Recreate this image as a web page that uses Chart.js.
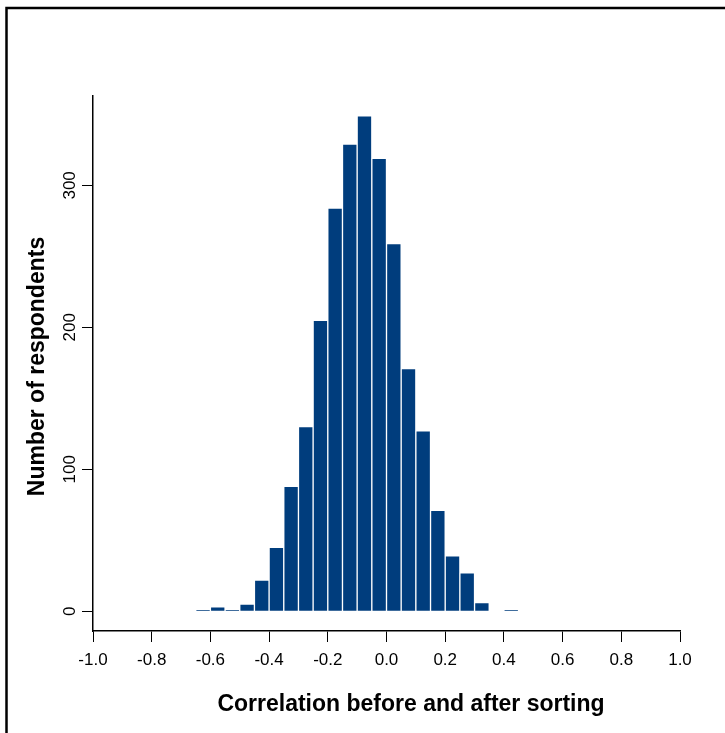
<!DOCTYPE html>
<html>
<head>
<meta charset="utf-8">
<title>Correlation before and after sorting</title>
<script src="https://cdn.jsdelivr.net/npm/chart.js@4.4.1/dist/chart.umd.min.js"></script>
<style>
  html, body { margin: 0; padding: 0; background: #fff; }
  canvas { display: block; }
</style>
</head>
<body>
<canvas id="hist" width="725" height="733"></canvas>
<script>
// histogram bins (left edge of each 0.05-wide bin) and respondent counts
const binLeft = [
  -0.75, -0.70, -0.65, -0.60, -0.55, -0.50, -0.45, -0.40, -0.35, -0.30,
  -0.25, -0.20, -0.15, -0.10, -0.05, 0.00, 0.05, 0.10, 0.15, 0.20,
  0.25, 0.30, 0.35, 0.40, 0.45, 0.50,
];
const counts = [
  0, 0, 1, 3, 1, 5, 22, 45, 88, 130,
  205, 284, 329, 349, 319, 259, 171, 127, 71, 39,
  27, 6, 0, 1, 0, 0,
];
const binWidth = 0.05;

const xTicks = [-1.0, -0.8, -0.6, -0.4, -0.2, 0.0, 0.2, 0.4, 0.6, 0.8, 1.0];
const yTicks = [0, 100, 200, 300];

const xTitle = "Correlation before and after sorting";
const yTitle = "Number of respondents";

const FONT = '"Liberation Sans", Arial, Helvetica, sans-serif';
const BAR = "#003d7d";

// R-style y range: 4% padding around 0..max
const yMax = Math.max(...counts);
const yPad = yMax * 0.04;

const decorations = {
  id: "decorations",
  beforeDraw(chart) {
    const ctx = chart.ctx;
    ctx.save();
    ctx.fillStyle = "#fff";
    ctx.fillRect(0, 0, chart.width, chart.height);
    ctx.restore();
  },
  afterDraw(chart) {
    const ctx = chart.ctx;
    const y = chart.scales.y;
    ctx.save();
    // outer frame
    ctx.strokeStyle = "#000";
    ctx.lineWidth = 2.5;
    ctx.strokeRect(6.5, 8, chart.width + 20, chart.height + 20);

    // vertical y tick labels
    ctx.fillStyle = "#000";
    ctx.font = "17px " + FONT;
    ctx.textAlign = "center";
    ctx.textBaseline = "middle";
    yTicks.forEach((v) => {
      ctx.save();
      ctx.translate(70, y.getPixelForValue(v));
      ctx.rotate(-Math.PI / 2);
      ctx.fillText(String(v), 0, 0);
      ctx.restore();
    });

    // axis titles
    ctx.font = "bold 23px " + FONT;
    ctx.fillText(xTitle, 411, 705);
    ctx.save();
    ctx.translate(38, (chart.chartArea.top + chart.chartArea.bottom) / 2 + 3);
    ctx.rotate(-Math.PI / 2);
    ctx.fillText(yTitle, 0, 0);
    ctx.restore();
    ctx.restore();
  },
};

new Chart(document.getElementById("hist"), {
  type: "bar",
  data: {
    datasets: [
      {
        data: binLeft.map((b, i) => ({ x: b + binWidth / 2, y: counts[i] })),
        backgroundColor: BAR,
        borderColor: "#ffffff",
        borderWidth: 1,
        barPercentage: 1,
        categoryPercentage: 1,
      },
    ],
  },
  options: {
    responsive: false,
    animation: false,
    layout: { padding: { top: 96, right: 45, left: 0, bottom: 0 } },
    plugins: {
      legend: { display: false },
      tooltip: { enabled: false },
    },
    scales: {
      x: {
        type: "linear",
        min: -1,
        max: 1,
        offset: false,
        afterBuildTicks: (s) => { s.ticks = xTicks.map((v) => ({ value: v })); },
        afterFit: (s) => { s.height = 102; },
        border: { display: true, color: "#000", width: 1.5 },
        grid: {
          offset: false,
          drawOnChartArea: false,
          drawTicks: true,
          tickLength: 11,
          color: "#000",
          tickColor: "#000",
        },
        ticks: {
          color: "#000",
          font: { family: FONT, size: 17 },
          padding: 8,
          maxRotation: 0,
          autoSkip: false,
          callback: (v) => Number(v).toFixed(1),
        },
      },
      y: {
        type: "linear",
        min: -yPad,
        max: yMax + yPad,
        afterBuildTicks: (s) => { s.ticks = yTicks.map((v) => ({ value: v })); },
        afterFit: (s) => { s.width = 93; },
        border: { display: true, color: "#000", width: 1.5 },
        grid: {
          drawOnChartArea: false,
          drawTicks: true,
          tickLength: 11,
          color: "#000",
          tickColor: "#000",
        },
        ticks: { display: false },
      },
    },
  },
  plugins: [decorations],
});
</script>
</body>
</html>
